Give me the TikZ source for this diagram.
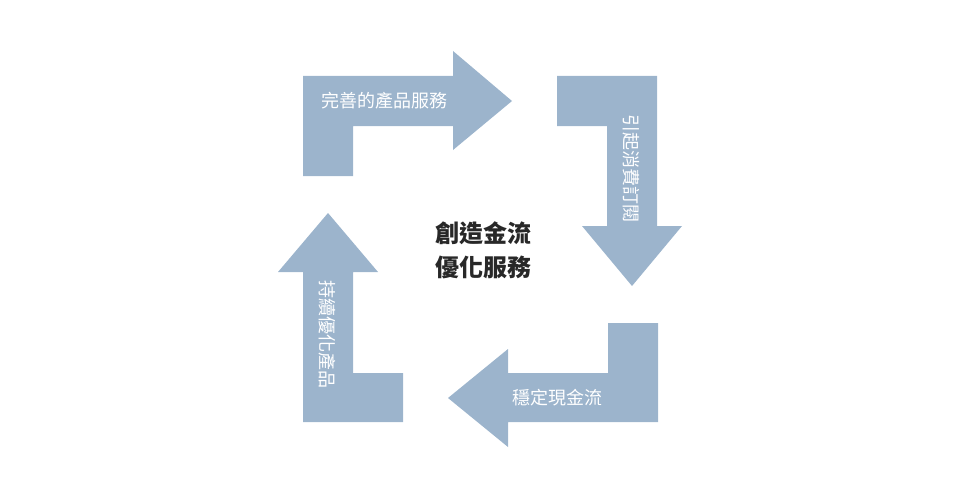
\documentclass[tikz,border=0pt]{standalone}
\usepackage{fontspec}
\newfontfamily\cjk{Noto Sans CJK TC}
\definecolor{arrowblue}{RGB}{156,180,204}
\definecolor{darktext}{RGB}{40,40,40}
\tikzset{
  bentarrow/.style={fill=arrowblue, draw=none},
  arrowlabel/.style={text=white, font=\cjk\fontsize{18}{20}\selectfont, inner sep=0pt},
  centerlabel/.style={text=darktext, font=\cjk\bfseries\fontsize{24}{34}\selectfont, align=center, inner sep=0pt}
}
\begin{document}
\begin{tikzpicture}[x=1pt,y=-1pt]
\useasboundingbox (0,0) rectangle (960,500);
% arrow 1: top-left, pointing right
\path[bentarrow] (303,176) -- (303,76) -- (453,76) -- (453,51) -- (512,101) -- (453,150) -- (453,126) -- (353,126) -- (353,176) -- cycle;
% arrow 2: top-right, pointing down
\path[bentarrow] (557,76) -- (657,76) -- (657,226) -- (682,226) -- (632,286) -- (582,226) -- (607,226) -- (607,126) -- (557,126) -- cycle;
% arrow 3: bottom-right, pointing left
\path[bentarrow] (658,323) -- (658,422) -- (508,422) -- (508,447) -- (448,398) -- (508,349) -- (508,373) -- (608,373) -- (608,323) -- cycle;
% arrow 4: bottom-left, pointing up
\path[bentarrow] (403,422) -- (303,422) -- (303,272) -- (278,272) -- (328,213) -- (378,272) -- (353,272) -- (353,373) -- (403,373) -- cycle;
% labels
\node[arrowlabel] (t1) at (384,101) {完善的產品服務};
\node[arrowlabel, rotate=-90] (t2) at (631,168) {引起消費訂閱};
\node[arrowlabel] (t3) at (557,398) {穩定現金流};
\node[arrowlabel, rotate=-90] (t4) at (327,334) {持續優化產品};
\node[centerlabel] (c) at (483,250) {創造金流\\優化服務};
\end{tikzpicture}
\end{document}
